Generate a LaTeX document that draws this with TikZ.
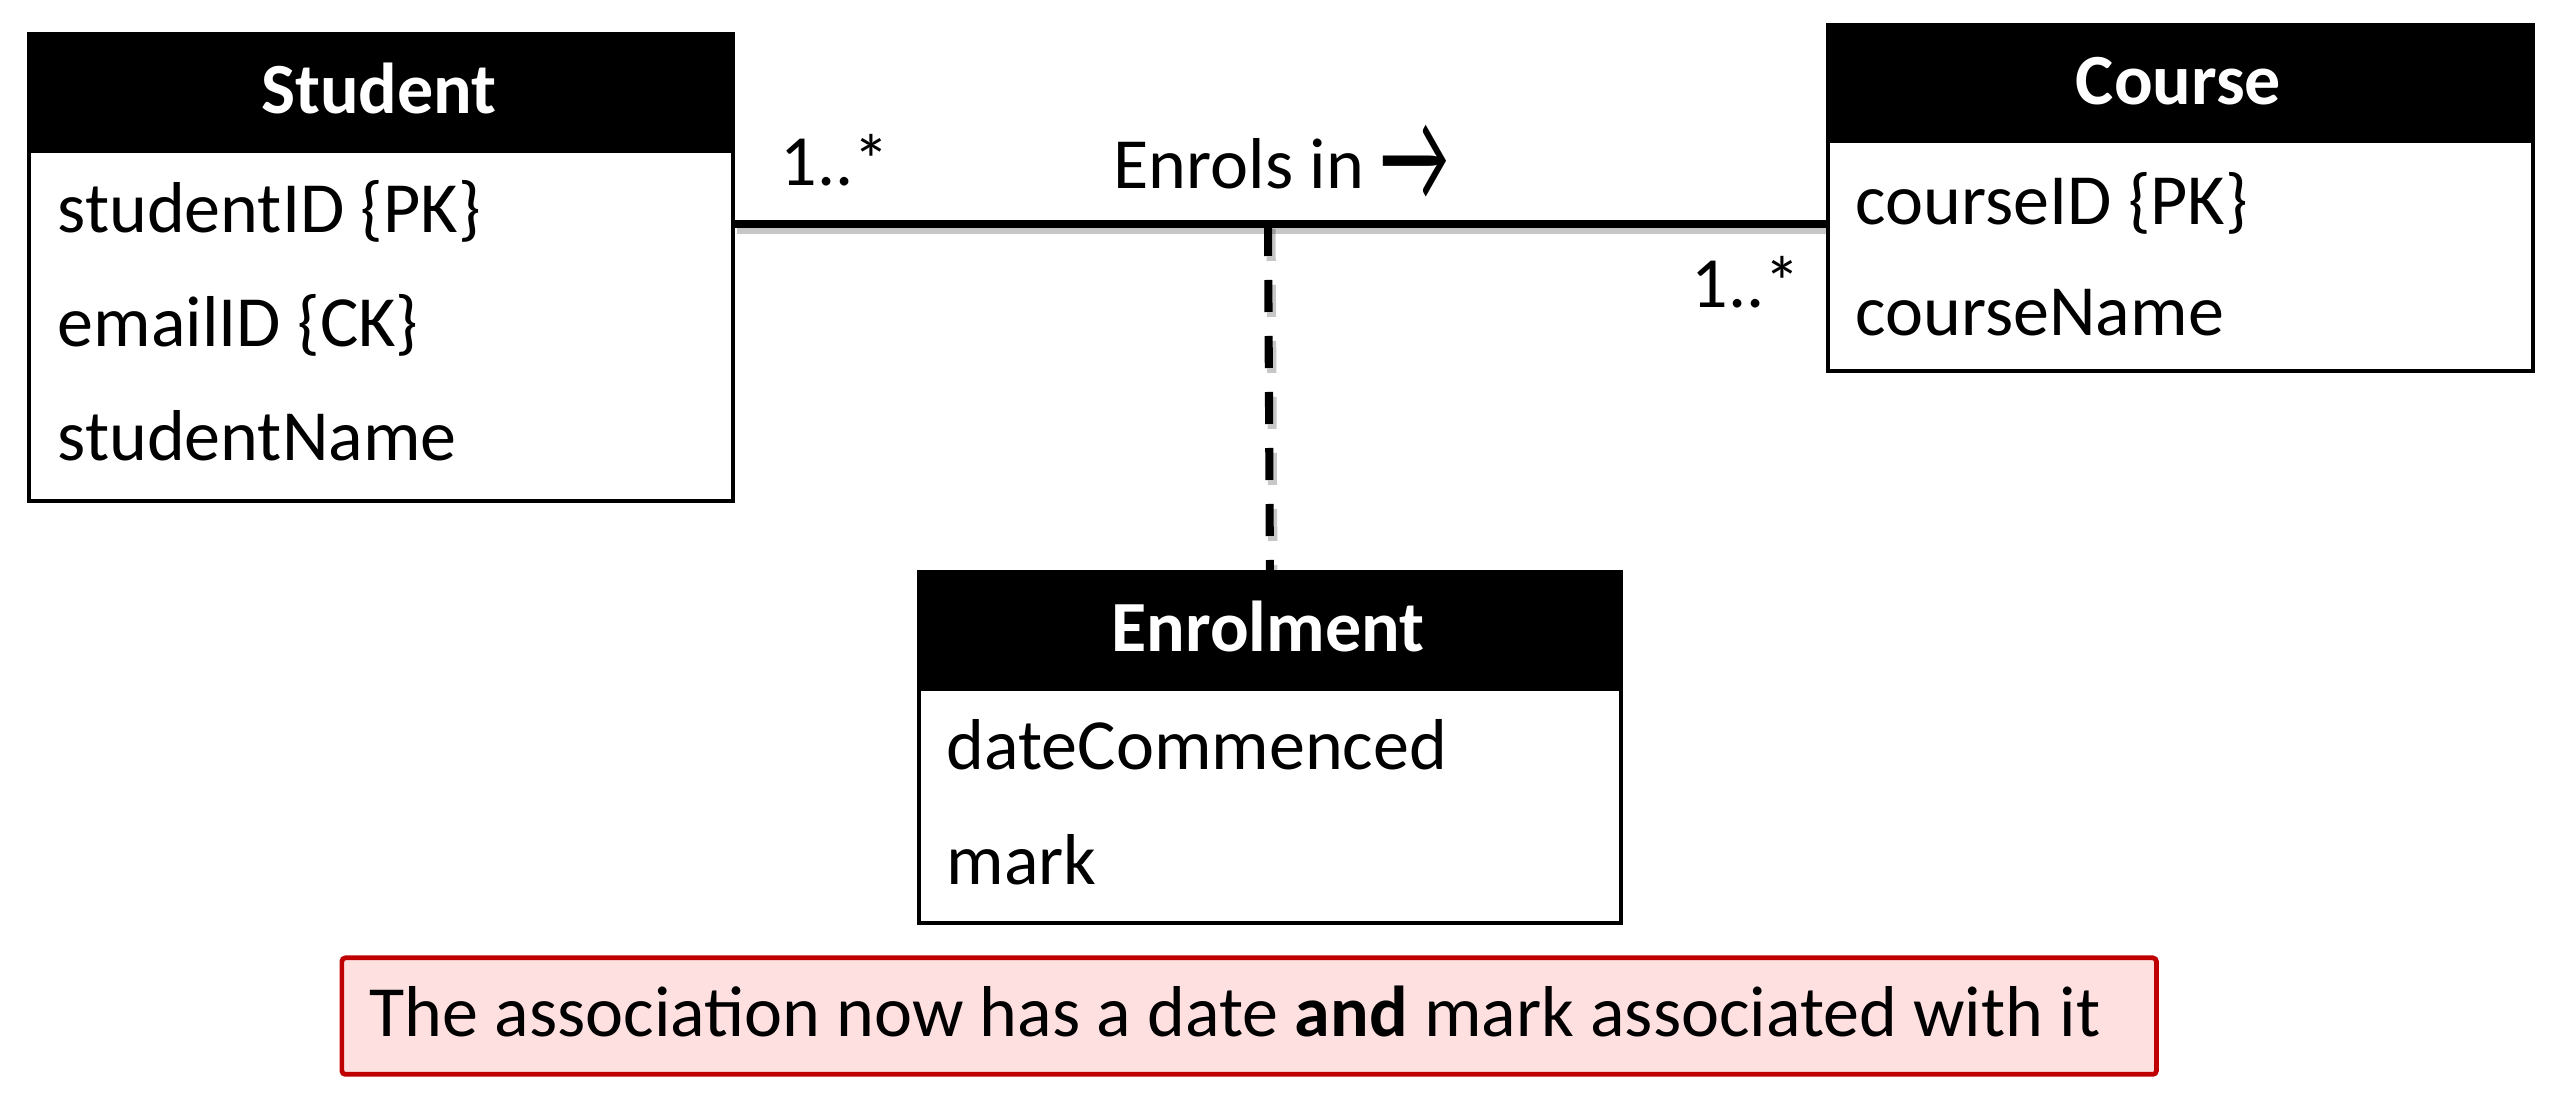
\documentclass[tikz,border=0pt]{standalone}
\usepackage{fontspec}
\usepackage{graphicx}
\setmainfont{Carlito}
\definecolor{notered}{HTML}{C00000}
\definecolor{notefill}{HTML}{FFE0E0}
\begin{document}
\begin{tikzpicture}[
  x=1cm,y=1cm,
  font=\fontsize{20.5}{24}\selectfont,
  boxline/.style={draw=black, line width=1.1pt},
  headbox/.style={boxline, fill=black, anchor=north west, inner sep=0pt},
  bodybox/.style={boxline, fill=white, anchor=north west, inner sep=0pt},
  headtxt/.style={text=white, font=\fontsize{20.5}{24}\selectfont\bfseries, anchor=base, inner sep=0pt},
  attr/.style={anchor=base west, inner sep=0pt},
  mult/.style={anchor=base west, inner sep=0pt},
  assoc/.style={line width=2.3pt},
  shadowline/.style={line width=2.6pt, draw=black, opacity=0.22},
  linkdash/.style={line width=2.3pt, dash pattern=on 0.32cm off 0.24cm},
  notebox/.style={draw=notered, fill=notefill, line width=1.35pt, rounded corners=1pt, anchor=north west, inner sep=0pt}
]
\useasboundingbox (0,0) rectangle (25.49,-11.04);

% ---- Student ----
\node[bodybox, minimum width=7.04cm, minimum height=3.50cm] (stuB) at (0.27,-1.49) {};
\node[headbox, minimum width=7.04cm, minimum height=1.17cm] (stuH) at (0.27,-0.32) {};
\node[headtxt] (stuT) at (3.79,-1.14) {Student};
\node[attr] (stuA1) at (0.57,-2.33) {studentID \{PK\}};
\node[attr] (stuA2) at (0.57,-3.47) {emailID \{CK\}};
\node[attr] (stuA3) at (0.57,-4.61) {studentName};

% ---- Course ----
\node[bodybox, minimum width=7.05cm, minimum height=2.30cm] (crsB) at (18.26,-1.39) {};
\node[headbox, minimum width=7.05cm, minimum height=1.16cm] (crsH) at (18.26,-0.23) {};
\node[headtxt] (crsT) at (21.785,-1.045) {Course};
\node[attr] (crsA1) at (18.55,-2.25) {courseID \{PK\}};
\node[attr] (crsA2) at (18.55,-3.36) {courseName};

% ---- Enrolment ----
\node[bodybox, minimum width=7.02cm, minimum height=2.34cm] (enrB) at (9.17,-6.87) {};
\node[headbox, minimum width=7.02cm, minimum height=1.17cm] (enrH) at (9.17,-5.70) {};
\node[headtxt] (enrT) at (12.68,-6.515) {Enrolment};
\node[attr] (enrA1) at (9.46,-7.70) {dateCommenced};
\node[attr] (enrA2) at (9.46,-8.85) {mark};

% ---- association ----
\coordinate (mid) at (12.68,-2.24);
\draw[shadowline] ([xshift=0.02cm,yshift=-0.05cm]stuB.east |- mid) -- ([xshift=0.02cm,yshift=-0.05cm]crsB.west |- mid);
\draw[shadowline, dash pattern=on 0.32cm off 0.24cm] ([xshift=0.03cm,yshift=-0.05cm]mid) -- ([xshift=0.03cm,yshift=-0.05cm]enrH.north);
\draw[assoc] (stuB.east |- mid) -- (crsB.west |- mid);
\draw[linkdash] (mid) -- (enrH.north);

\node[mult] (mL) at (7.80,-1.86) {1..*};
\node[mult] (lbl) at (11.13,-1.89) {Enrols in \raisebox{-3.6pt}{\scalebox{1.05}[1.85]{→}}};
\node[mult] (mR) at (16.91,-3.08) {1..*};

% ---- note ----
\node[notebox, minimum width=18.145cm, minimum height=1.165cm] (note) at (3.395,-9.555) {};
\node[anchor=base west, inner sep=0pt] (noteT) at (3.69,-10.37) {The association now has a date \textbf{and} mark associated with it};
\end{tikzpicture}
\end{document}
